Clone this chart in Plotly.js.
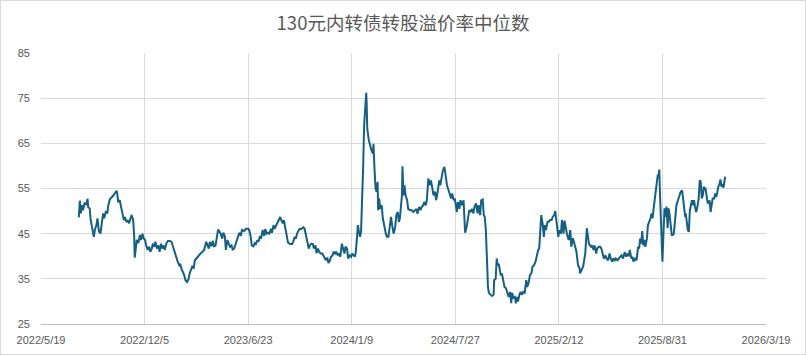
<!DOCTYPE html>
<html>
<head>
<meta charset="utf-8">
<script src="https://cdn.plot.ly/plotly-3.0.1.min.js"></script>
<style>
  html, body { margin: 0; padding: 0; background: #ffffff; }
  #wrap { position: relative; width: 806px; height: 355px; }
  #chart { width: 806px; height: 355px; }
  #frame { position: absolute; left: 0; top: 0; width: 806px; height: 355px; box-sizing: border-box; border: 1px solid #d9d9d9; pointer-events: none; }
</style>
</head>
<body>
<div id="wrap"><div id="chart"></div><div id="frame"></div></div>
<script>
// Title and axis settings
const chartTitle = '130元内转债转股溢价率中位数';
const baseDate = '2022-05-19';       // first x-axis tick
const endDate = '2026-03-19';        // last x-axis tick
const xTickStepDays = 200;
const yTicks = [25, 35, 45, 55, 65, 75, 85];

const dayOffsets = [
  73,75,77,79,81,84,87,90,91,94,96,98,102,104,107,109,112,115,117,120,122,125,128,130,133,137,140,143,146,147,
  149,152,155,157,160,162,165,167,170,173,175,178,180,181,183,185,188,191,193,196,198,201,203,206,209,211,214,216,219,221,
  224,227,229,232,234,237,239,242,245,249,252,255,257,259,261,264,267,269,272,274,277,279,282,285,287,290,292,295,297,300,
  304,308,312,315,
  319,321,324,326,329,332,334,337,339,342,344,347,350,352,355,357,360,362,365,368,370,373,375,378,380,383,386,388,392,396,
  400,402,405,407,410,413,415,418,420,423,425,428,431,433,436,438,441,444,446,449,451,454,456,459,462,464,467,469,472,474,
  477,481,485,487,490,492,495,499,503,507,509,512,514,517,519,522,525,527,530,532,535,537,540,543,545,548,550,553,555,558,
  560,563,565,568,570,573,575,578,581,583,586,588,591,593,596,599,601,604,606,608,610,612,614,616,618,620,622,624,626,628,
  629,630,633,635,638,641,642,644,646,648,650,651,653,655,658,660,663,666,668,671,673,676,678,681,684,686,689,691,693,695,
  697,698,700,702,704,707,709,713,716,719,722,725,727,730,733,735,738,740,743,745,748,751,753,756,758,761,763,766,769,771,
  774,776,779,781,784,787,789,792,794,797,799,
  801,803,805,808,810,813,816,818,819,822,825,827,830,832,835,837,840,843,845,848,850,853,855,857,859,861,862,863,865,868,
  871,874,875,878,880,882,884,886,888,890,893,895,898,901,903,906,908,910,912,915,917,919,921,924,926,929,931,934,937,939,
  942,944,947,949,952,955,957,960,962,964,966,969,971,973,975,978,980,983,986,988,991,993,995,997,999,1001,1004,1006,1009,1011,
  1014,1016,1019,1022,1024,1027,1029,1032,1034,1037,1040,
  1041,1044,1047,1051,1054,1056,1058,1062,1064,1067,1069,1072,1074,1077,1080,1082,1085,1087,1090,1092,1095,1098,1100,1103,1105,1108,1110,1113,1116,
  1121,1124,1127,1130,1132,1135,1137,1140,1142,1144,1147,1150,1151,1153,1155,1157,1159,1161,1163,1165,1167,1170,1172,1175,1177,1179,1181,1183,1185,1187,
  1189,1191,1192,1194,1195,1197,1199,1200,1202,1204,1206,1208,1210,1212,1214,1216,1218,1220,1222,1225,1227,1230,1233,1235,1238,1240,1242,1244,1245,1247,
  1249,1251,1253,1255,1257,1259,1261,1263,1265,1267,1270,1272,1274,1276,1278,1280,1282,1283,1285,1287,1289,1291,1293,1295,1297,1300,1302,1304,1306,1308,
  1310,1312,1314,1316,1318,1320,1321
];

// Median conversion premium (%)
const premiumValues = [
  48.6,52.3,49.5,51.3,50.2,51.7,51.5,52.7,50.9,50.6,48.0,46.4,44.3,45.8,46.9,48.4,45.4,45.2,47.3,49.5,48.4,49.8,49.5,51.3,52.6,53.0,53.5,54.0,54.5,54.1,
  52.0,52.4,50.6,49.5,48.0,48.7,47.6,48.0,47.3,48.4,49.1,48.0,44.3,39.7,41.4,43.6,42.9,44.7,43.6,45.0,44.0,43.6,42.5,41.4,42.1,41.0,41.7,42.8,42.1,43.2,
  41.7,42.4,41.0,42.8,41.7,42.4,41.4,42.8,43.4,43.4,43.2,42.1,41.0,40.2,39.5,38.8,38.0,38.3,36.9,36.6,35.6,34.7,34.3,35.0,36.2,36.9,37.7,37.3,39.1,39.5,
  40.2,40.6,41.0,41.4,
  43.2,42.4,41.7,43.2,42.2,43.4,42.1,42.4,44.3,45.9,45.6,45.0,43.9,45.2,44.5,41.4,43.6,42.9,42.1,42.4,41.5,41.7,42.4,43.2,44.3,45.2,44.5,45.8,45.6,46.1,
  46.1,45.8,44.3,42.4,42.2,42.9,42.7,43.6,43.2,44.5,43.9,45.8,44.5,46.0,45.0,45.2,45.0,46.1,45.2,46.9,46.1,46.9,47.3,48.0,48.7,48.0,47.3,48.0,45.8,44.3,
  43.0,42.7,42.7,43.2,44.3,43.9,45.2,46.0,46.1,46.4,46.1,44.5,43.2,41.7,42.4,42.8,42.7,41.7,42.4,40.7,41.7,41.0,40.6,40.6,40.2,39.7,39.1,39.7,38.5,39.1,
  39.9,40.2,41.0,40.6,41.0,40.2,40.6,39.9,42.8,41.8,40.6,42.1,41.7,39.5,40.2,39.9,40.6,40.2,39.9,41.0,43.6,46.9,45.4,44.3,45.4,51.3,59.4,69.0,73.8,76.2,
  73.4,68.3,65.7,64.6,63.5,62.7,64.9,59.4,55.0,54.3,56.5,50.2,52.8,50.5,51.3,48.4,46.5,45.0,44.3,44.3,46.2,48.7,46.9,45.0,46.5,49.0,49.8,47.6,48.4,51.3,
  53.5,59.9,53.5,55.7,53.5,52.4,50.5,50.2,50.2,49.8,50.2,50.5,49.4,50.9,50.2,50.9,51.3,52.0,51.3,52.4,57.2,55.7,56.8,54.3,53.5,54.3,52.4,54.3,56.8,55.7,
  57.9,59.0,59.8,57.9,55.7,54.6,53.9,52.8,53.9,52.4,52.8,
  51.3,49.8,52.0,50.5,52.4,51.3,52.4,48.7,45.2,46.5,49.5,50.2,49.8,50.5,49.5,50.9,51.7,49.5,51.3,49.1,52.4,52.6,49.1,48.7,45.8,41.4,36.9,33.2,31.9,31.5,
  31.2,31.5,34.7,35.0,39.5,38.0,38.3,36.9,35.8,36.2,34.3,33.2,32.9,31.9,31.0,32.1,29.6,31.9,30.8,31.0,29.6,31.0,30.0,31.5,32.1,31.5,32.1,31.9,34.7,33.2,
  34.3,35.8,36.2,37.7,38.0,38.8,39.9,41.4,41.7,45.8,49.1,46.9,44.3,46.9,45.8,47.6,47.6,48.0,48.0,48.7,49.1,50.0,48.0,46.2,44.3,45.8,45.0,48.0,45.0,47.9,
  45.4,44.7,43.6,45.8,42.1,44.0,43.2,42.1,41.0,38.0,37.3,
  36.2,37.1,37.8,40.6,46.2,44.5,42.8,42.1,42.4,41.4,42.4,40.6,41.7,42.1,42.1,41.7,39.9,39.5,40.2,39.5,39.1,40.6,39.5,38.8,39.5,39.1,39.5,39.1,39.5,
  40.2,39.5,40.9,39.9,40.6,40.0,41.4,39.5,39.9,38.8,39.5,39.1,40.6,42.1,41.7,43.9,42.8,45.6,42.4,43.6,42.1,43.9,46.9,47.6,48.4,49.5,48.4,50.6,52.4,54.6,
  56.5,58.0,57.6,59.2,54.6,46.5,43.2,38.8,45.0,50.6,48.7,51.0,46.2,50.6,49.1,45.8,44.7,44.7,45.0,48.7,51.3,52.4,53.5,54.2,54.6,52.4,49.5,48.7,49.5,47.6,
  45.8,45.4,50.2,51.3,52.4,51.3,52.4,50.9,49.8,50.6,52.8,56.8,56.5,52.8,53.5,55.4,54.6,55.2,53.5,52.0,51.7,52.4,49.8,51.7,52.8,52.8,53.9,53.1,54.6,55.4,
  55.9,57.0,55.4,55.7,55.2,57.4,57.6
];

const baseMs = Date.parse(baseDate + 'T00:00:00Z');
const dates = dayOffsets.map(d => new Date(baseMs + d * 86400000).toISOString().slice(0, 10));

const trace = {
  type: 'scatter',
  mode: 'lines',
  x: dates,
  y: premiumValues,
  line: { color: '#156082', width: 2 },
  hoverinfo: 'x+y'
};

const tickFont = { family: 'Liberation Sans, Arial, sans-serif', size: 11, color: '#595959' };

const layout = {
  width: 806,
  height: 355,
  margin: { l: 41, r: 40, t: 53, b: 31, pad: 0 },
  paper_bgcolor: '#ffffff',
  plot_bgcolor: '#ffffff',
  showlegend: false,
  title: {
    text: chartTitle,
    x: 0.5,
    xanchor: 'center',
    y: 0.935,
    yanchor: 'middle',
    font: { family: 'Noto Sans CJK SC, sans-serif', size: 18.5, color: '#595959' }
  },
  xaxis: {
    type: 'date',
    range: [baseDate, endDate],
    tick0: baseDate,
    dtick: xTickStepDays * 86400000,
    tickformat: '%Y/%-m/%-d',
    showgrid: true,
    gridcolor: '#d9d9d9',
    gridwidth: 1,
    showline: true,
    linecolor: '#bfbfbf',
    linewidth: 1,
    ticks: '',
    tickfont: tickFont,
    ticklabelstandoff: 6,
    zeroline: false,
    fixedrange: true
  },
  yaxis: {
    range: [25, 85],
    tickmode: 'array',
    tickvals: yTicks,
    ticktext: yTicks.map(String),
    showgrid: true,
    gridcolor: '#d9d9d9',
    gridwidth: 1,
    showline: false,
    ticks: '',
    tickfont: tickFont,
    ticklabelstandoff: 10,
    zeroline: false,
    fixedrange: true
  }
};

Plotly.newPlot('chart', [trace], layout, { displayModeBar: false, staticPlot: true });
</script>
</body>
</html>
